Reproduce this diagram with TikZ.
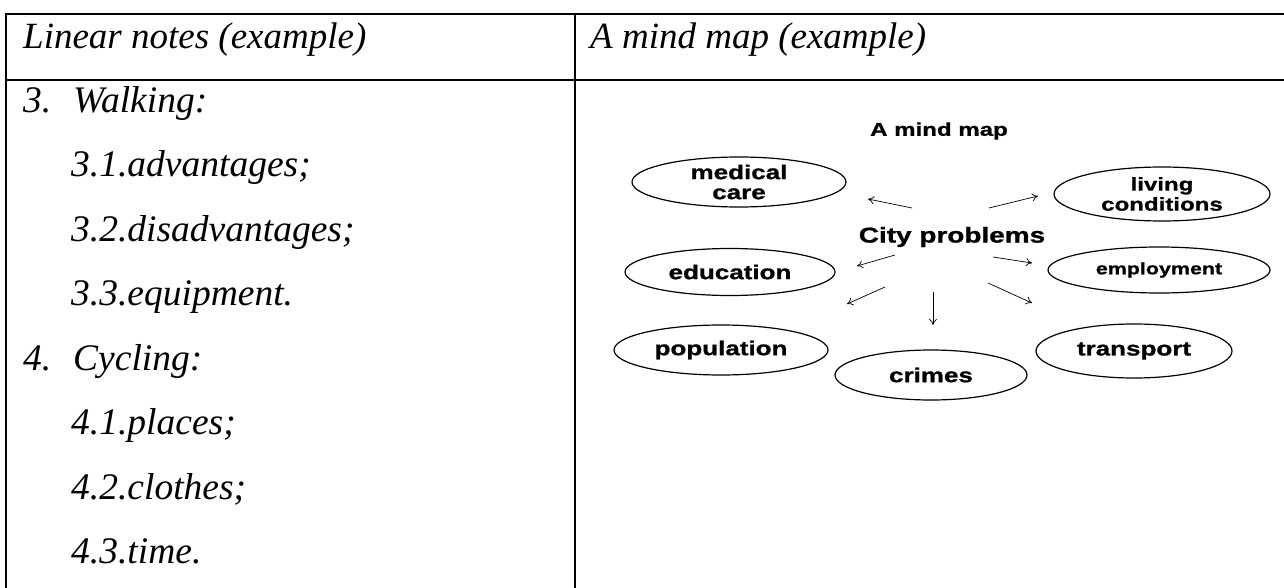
\documentclass[tikz,border=0pt]{standalone}
\usepackage{fontspec}
\setmainfont{Liberation Serif}
\newfontfamily\mapfont[FakeStretch=1.3, BoldFeatures={FakeBold=1}]{Liberation Sans}
\usetikzlibrary{shapes.geometric,arrows.meta}

\tikzset{
	rule/.style={line width=2.4pt},
	cell/.style={anchor=base west, inner sep=0pt, font=\itshape\fontsize{37.5}{37.5}\selectfont},
	head/.style={anchor=base west, inner sep=0pt, font=\itshape\fontsize{37}{37}\selectfont},
	bubble/.style={shape=ellipse, draw=black, line width=1.2pt, inner sep=0pt, align=center,
		font=\mapfont\bfseries\fontsize{20}{20}\selectfont},
	arr/.style={-{To[length=6pt,width=8pt]}, line width=0.7pt},
}

\begin{document}
\begin{tikzpicture}[x=1pt,y=-1pt]
	\useasboundingbox (0,0) rectangle (1284,588);

	% table
	\draw[rule] (5,14)   -- (1284,14);
	\draw[rule] (5,80)   -- (1284,80);
	\draw[rule] (6,13)   -- (6,588);
	\draw[rule] (575,13) -- (575,588);

	\node[head] (h1) at (23,48.5)  {Linear notes (example)};
	\node[head] (h2) at (590,48.5) {A mind map (example)};

	% linear notes
	\node[cell] (n3)   at (23,112.5) {3.};
	\node[cell] (walk) at (73,112.5) {Walking:};
	\node[cell] (a31)  at (71,177)   {3.1.advantages;};
	\node[cell] (a32)  at (71,241)   {3.2.disadvantages;};
	\node[cell] (a33)  at (71,305.5) {3.3.equipment.};
	\node[cell] (n4)   at (23,370)   {4.};
	\node[cell] (cyc)  at (73,370)   {Cycling:};
	\node[cell] (a41)  at (71,434.5) {4.1.places;};
	\node[cell] (a42)  at (71,499)   {4.2.clothes;};
	\node[cell] (a43)  at (71,563.5) {4.3.time.};

	% mind map
	\node[font=\mapfont\bfseries\fontsize{18.5}{18.5}\selectfont] (title) at (939,131) {A mind map};
	\node[font=\mapfont\bfseries\fontsize{21.5}{21.5}\selectfont] (city)  at (952,237) {City problems};

	\node[bubble, minimum width=214pt, minimum height=50pt] (med) at (739,182)  {medical\\care};
	\node[bubble, minimum width=216pt, minimum height=54pt,
		font=\mapfont\bfseries\fontsize{18.5}{20}\selectfont] (liv) at (1162,194) {living\\conditions};
	\node[bubble, minimum width=210pt, minimum height=47pt] (edu) at (730,272)  {education};
	\node[bubble, minimum width=222pt, minimum height=46pt,
		font=\mapfont\bfseries\fontsize{16.5}{16.5}\selectfont] (emp) at (1159,270) {employment};
	\node[bubble, minimum width=214pt, minimum height=50pt] (pop) at (721,350)  {population};
	\node[bubble, minimum width=192pt, minimum height=50pt] (crm) at (931,375)  {crimes};
	\node[bubble, minimum width=196pt, minimum height=54pt] (trn) at (1134,351) {transport};

	\coordinate (med0) at (912,208);  \coordinate (med1) at (868,199);
	\coordinate (liv0) at (989,208);  \coordinate (liv1) at (1038,196);
	\coordinate (edu0) at (895,255);  \coordinate (edu1) at (857,266);
	\coordinate (emp0) at (993,257);  \coordinate (emp1) at (1032,263);
	\coordinate (pop0) at (885,287);  \coordinate (pop1) at (847,304);
	\coordinate (crm0) at (933,292);  \coordinate (crm1) at (933,325);
	\coordinate (trn0) at (988,283);  \coordinate (trn1) at (1032,303);

	\path [arr] (med0) edge (med1);
	\path [arr] (liv0) edge (liv1);
	\path [arr] (edu0) edge (edu1);
	\path [arr] (emp0) edge (emp1);
	\path [arr] (pop0) edge (pop1);
	\path [arr] (crm0) edge (crm1);
	\path [arr] (trn0) edge (trn1);
\end{tikzpicture}
\end{document}
